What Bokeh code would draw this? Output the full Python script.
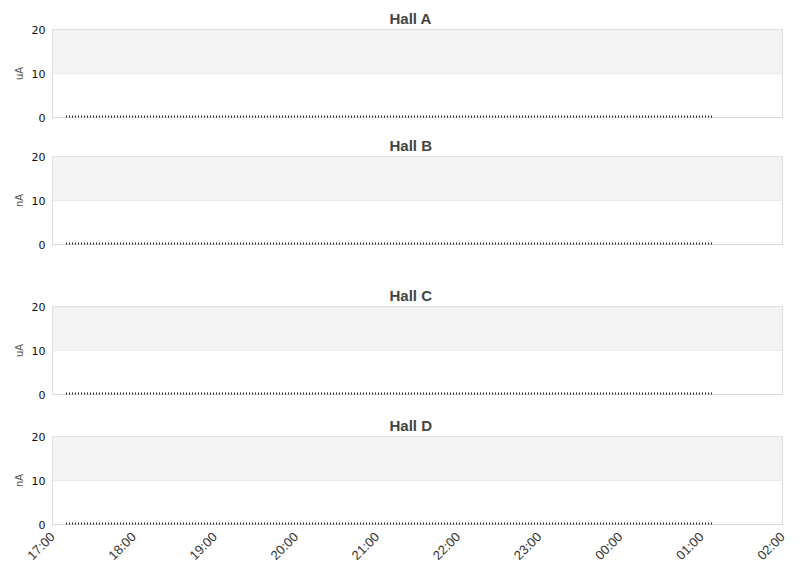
import math
from datetime import datetime
from bokeh.plotting import figure
from bokeh.layouts import column
from bokeh.models import BoxAnnotation, DatetimeTickFormatter, FixedTicker, Range1d, DatetimeTicker
from bokeh.embed import file_html
from bokeh.resources import INLINE

# ---- data ----
halls = ["Hall A", "Hall B", "Hall C", "Hall D"]
units = ["uA", "nA", "uA", "nA"]
times = [datetime(2024, 1, 1, 17, 10), datetime(2024, 1, 2, 1, 9)]
values_a = [0, 0]
values_b = [0, 0]
values_c = [0, 0]
values_d = [0, 0]
series = [values_a, values_b, values_c, values_d]
x_start = datetime(2024, 1, 1, 17, 0)
x_end = datetime(2024, 1, 2, 2, 0)
y_ticks = [0, 10, 20]

# ---- layout ----
borders = [(29, 10), (29, 20), (42, 10), (32, 50)]
FONT = "DejaVu Sans"
TFONT = "Liberation Sans"

figs = []
for i, (name, unit, vals) in enumerate(zip(halls, units, series)):
    top, bottom = borders[i]
    last = i == len(halls) - 1
    p = figure(
        x_axis_type="datetime",
        frame_width=730, frame_height=88,
        min_border_left=52, min_border_right=15,
        min_border_top=top, min_border_bottom=bottom,
        x_range=Range1d(x_start, x_end),
        y_range=Range1d(0, 20),
        toolbar_location=None, output_backend="svg",
        title=name,
    )
    p.title.align = "left"
    p.title.offset = 337
    p.title.text_font = TFONT
    p.title.text_font_size = "15px"
    p.title.text_font_style = "bold"
    p.title.text_color = "#444444"
    p.title.standoff = 5

    p.outline_line_color = "#d9d9d9"
    p.outline_line_width = 1

    p.add_layout(BoxAnnotation(bottom=y_ticks[1], top=y_ticks[2], fill_color="#f3f3f3",
                               fill_alpha=1, line_color=None, level="underlay"))

    p.xgrid.grid_line_color = None
    p.ygrid.grid_line_color = "#e2e2e2"
    p.ygrid.ticker = FixedTicker(ticks=y_ticks)

    p.yaxis.ticker = FixedTicker(ticks=y_ticks)
    p.yaxis.axis_line_color = None
    p.yaxis.major_tick_line_color = None
    p.yaxis.major_tick_out = 0
    p.yaxis.major_tick_in = 0
    p.yaxis.minor_tick_line_color = None
    p.yaxis.major_label_text_font = FONT
    p.yaxis.major_label_text_font_size = "11px"
    p.yaxis.major_label_text_color = "#111111"
    p.yaxis.major_label_standoff = 7
    p.yaxis.axis_label = unit
    p.yaxis.axis_label_text_font = FONT
    p.yaxis.axis_label_text_font_size = "10px"
    p.yaxis.axis_label_text_font_style = "normal"
    p.yaxis.axis_label_text_color = "#555555"
    p.yaxis.axis_label_standoff = 4

    p.xaxis.axis_line_color = None
    p.xaxis.major_tick_line_color = None
    p.xaxis.minor_tick_line_color = None
    p.xaxis.ticker = DatetimeTicker(desired_num_ticks=10, num_minor_ticks=0)
    p.xaxis.formatter = DatetimeTickFormatter(hours="%H:%M", minutes="%H:%M", days="%H:%M")
    if last:
        p.xaxis.major_label_orientation = math.pi / 4
        p.xaxis.major_label_text_font = TFONT
        p.xaxis.major_label_text_font_size = "13px"
        p.xaxis.major_label_text_color = "#333333"
        p.xaxis.major_label_standoff = 4
    else:
        p.xaxis.visible = False

    p.line(times, vals, line_color="#222222", line_width=4, line_dash="1 2")
    figs.append(p)

layout = column(*figs, spacing=0)
open("out.html", "w").write(file_html(layout, INLINE))
